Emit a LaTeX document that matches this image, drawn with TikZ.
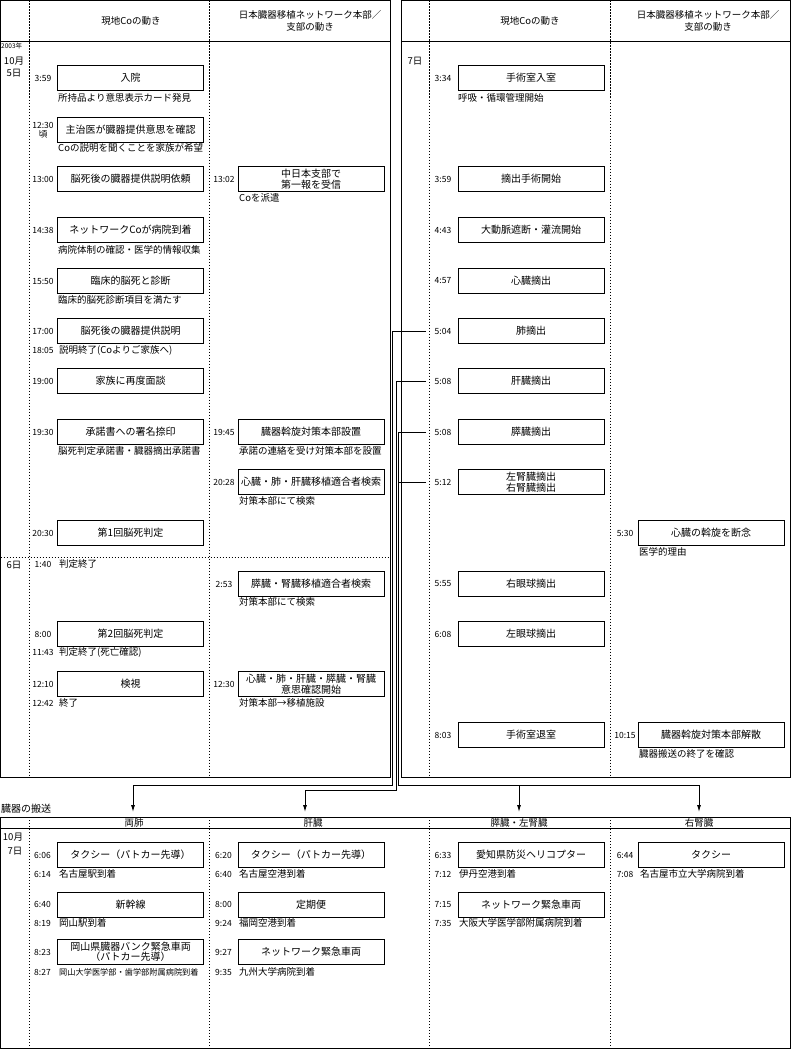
\documentclass[tikz,border=0pt]{standalone}
\usepackage{fontspec}
\setmainfont{Noto Sans CJK JP}
\usetikzlibrary{arrows.meta}

\tikzset{
  evbox/.style={draw, line width=0.9pt, minimum width=146pt, minimum height=25pt, inner sep=0pt, align=center, font=\fontsize{10}{10.5}\selectfont},
  tlabel/.style={inner sep=0pt, align=center, font=\fontsize{8.5}{9}\selectfont},
  note/.style={anchor=west, inner sep=0pt, font=\fontsize{9.5}{10}\selectfont},
  hdr/.style={inner sep=0pt, align=center, font=\fontsize{9.5}{12}\selectfont},
  daytag/.style={inner sep=0pt, font=\fontsize{9.5}{10}\selectfont},
  frame/.style={line width=0.9pt},
  colsep/.style={line width=0.9pt, dash pattern=on 1.2pt off 1.8pt},
  link/.style={line width=0.9pt},
  tolink/.style={link, -{Latex[length=7pt,width=4pt]}},
}

\begin{document}
\begin{tikzpicture}[x=1pt,y=-1pt]
\useasboundingbox (0,0) rectangle (791,1049);

	%frames
  \draw[frame] (0.5,0.5) rectangle (390,777);
  \draw[frame] (401,0.5) rectangle (790,777);
  \draw[frame] (0.5,817) rectangle (790,1048);
  \draw[frame] (0.5,41) -- (390,41);
  \draw[frame] (401,41) -- (790,41);
  \draw[frame] (0.5,828) -- (790,828);
  \foreach \x in {29,209}{
     \draw[colsep] (\x,0.5) -- (\x,777);
  }
  \foreach \x in {429.5,610}{
     \draw[colsep] (\x,0.5) -- (\x,777);
  }
  \foreach \x in {29,209,429.5,610}{
     \draw[colsep] (\x,817) -- (\x,1048);
  }
  \draw[colsep] (0.5,557) -- (390,557);

	%headers
  \node[hdr] (hA1) at (131,21) {現地Coの動き};
  \node[hdr] (hA2) at (310,21) {日本臓器移植ネットワーク本部／\\支部の動き};
  \node[hdr] (hB1) at (530,21) {現地Coの動き};
  \node[hdr] (hB2) at (708,21) {日本臓器移植ネットワーク本部／\\支部の動き};

	%days
  \node[inner sep=0pt, anchor=west, font=\fontsize{6.5}{7}\selectfont] (yr) at (1,46) {2003年};
  \node[daytag] (mon5) at (14,61) {10月};
  \node[daytag] (day5) at (14,73) {5日};
  \node[daytag] (day6) at (14,565) {6日};
  \node[daytag] (day7) at (415,61) {7日};

	%left panel, local Co
 \def\bx{130.5};
 \def\tx{43};
    \foreach \y/\tm/\txt/\name in {78/3:59/入院/a1, 130/{12:30\\頃}/主治医が臓器提供意思を確認/a2, 179/13:00/脳死後の臓器提供説明依頼/a3, 230/14:38/ネットワークCoが病院到着/a4, 281/15:50/臨床的脳死と診断/a5, 331/17:00/脳死後の臓器提供説明/a6, 381/19:00/家族に再度面談/a7, 432/19:30/承諾書への署名捺印/a8, 533/20:30/第1回脳死判定/a9, 634/8:00/第2回脳死判定/a10, 684/12:10/検視/a11}{
         \node[evbox] (\name) at (\bx,\y) {\txt};
         \node[tlabel] (t\name) at (\tx,\y) {\tm};
    }
    \foreach \y/\txt/\name in {98/所持品より意思表示カード発見/na1, 148/Coの説明を聞くことを家族が希望/na2, 250/病院体制の確認・医学的情報収集/na4, 300/臨床的脳死診断項目を満たす/na5, 451/脳死判定承諾書・臓器摘出承諾書/na8}{
         \node[note] (\name) at (58,\y) {\txt};
    }
    \foreach \y/\tm/\txt/\name in {350/18:05/説明終了(Coよりご家族へ)/ma6, 564/1:40/判定終了/ma9, 652/11:43/判定終了(死亡確認)/ma10, 703/12:42/終了/ma11}{
         \node[tlabel] (t\name) at (\tx,\y) {\tm};
         \node[note] (\name) at (59,\y) {\txt};
    }

	%left panel, network
 \def\bx{311};
 \def\tx{224};
    \foreach \y/\tm/\txt/\name in {179/13:02/{中日本支部で\\第一報を受信}/b1, 432/19:45/臓器斡旋対策本部設置/b2, 482/20:28/心臓・肺・肝臓移植適合者検索/b3, 584/2:53/膵臓・腎臓移植適合者検索/b4, 684/12:30/{心臓・肺・肝臓・膵臓・腎臓\\意思確認開始}/b5}{
         \node[evbox] (\name) at (\bx,\y) {\txt};
         \node[tlabel] (t\name) at (\tx,\y) {\tm};
    }
    \foreach \y/\txt/\name in {198/Coを派遣/nb1, 451/承諾の連絡を受け対策本部を設置/nb2, 501/対策本部にて検索/nb3, 602/対策本部にて検索/nb4, 703/対策本部→移植施設/nb5}{
         \node[note] (\name) at (239,\y) {\txt};
    }

	%right panel, local Co
 \def\bx{531};
 \def\tx{443};
    \foreach \y/\tm/\txt/\name in {78/3:34/手術室入室/c1, 179/3:59/摘出手術開始/c2, 230/4:43/大動脈遮断・灌流開始/c3, 281/4:57/心臓摘出/c4, 331/5:04/肺摘出/c5, 381/5:08/肝臓摘出/c6, 432/5:08/膵臓摘出/c7, 482/5:12/{左腎臓摘出\\右腎臓摘出}/c8, 584/5:55/右眼球摘出/c9, 634/6:08/左眼球摘出/c10, 735/8:03/手術室退室/c11}{
         \node[evbox] (\name) at (\bx,\y) {\txt};
         \node[tlabel, outer xsep=8.5pt] (t\name) at (\tx,\y) {\tm};
    }
  \node[note] (nc1) at (458,98) {呼吸・循環管理開始};

	%right panel, network
 \def\bx{711};
 \def\tx{625};
    \foreach \y/\tm/\txt/\name in {533/5:30/心臓の斡旋を断念/d1, 735/10:15/臓器斡旋対策本部解散/d2}{
         \node[evbox] (\name) at (\bx,\y) {\txt};
         \node[tlabel] (t\name) at (\tx,\y) {\tm};
    }
  \node[note] (nd1) at (639,552) {医学的理由};
  \node[note] (nd2) at (639,754) {臓器搬送の終了を確認};

	%transport
  \node[note, font=\fontsize{10}{11}\selectfont] (trans) at (1,809) {臓器の搬送};
  \node[hdr] (hC1) at (134,823) {両肺};
  \node[hdr] (hC2) at (313,823) {肝臓};
  \node[hdr] (hC3) at (519,823) {膵臓・左腎臓};
  \node[hdr] (hC4) at (699,823) {右腎臓};
  \node[daytag] (mon7) at (13,837) {10月};
  \node[daytag] (day7b) at (15,851) {7日};

 \def\bx{130.5};
 \def\tx{42.5};
    \foreach \y/\tm/\txt/\name in {855/6:06/タクシー（パトカー先導）/e1, 904.5/6:40/新幹線/e2, 952/8:23/{岡山県臓器バンク緊急車両\\（パトカー先導）}/e3}{
         \node[evbox] (\name) at (\bx,\y) {\txt};
         \node[tlabel] (t\name) at (\tx,\y) {\tm};
    }
    \foreach \y/\tm/\txt/\name in {874/6:14/名古屋駅到着/ne1, 923/8:19/岡山駅到着/ne2, 972/8:27/{\fontsize{8.2}{9}\selectfont 岡山大学医学部・歯学部附属病院到着}/ne3}{
         \node[tlabel] (t\name) at (\tx,\y) {\tm};
         \node[note] (\name) at (59,\y) {\txt};
    }

 \def\bx{311};
 \def\tx{223.5};
    \foreach \y/\tm/\txt/\name in {855/6:20/タクシー（パトカー先導）/f1, 904.5/8:00/定期便/f2, 952/9:27/ネットワーク緊急車両/f3}{
         \node[evbox] (\name) at (\bx,\y) {\txt};
         \node[tlabel] (t\name) at (\tx,\y) {\tm};
    }
    \foreach \y/\tm/\txt/\name in {874/6:40/名古屋空港到着/nf1, 923/9:24/福岡空港到着/nf2, 972/9:35/九州大学病院到着/nf3}{
         \node[tlabel] (t\name) at (\tx,\y) {\tm};
         \node[note] (\name) at (239,\y) {\txt};
    }

 \def\bx{531};
 \def\tx{443};
    \foreach \y/\tm/\txt/\name in {855/6:33/愛知県防災ヘリコプター/g1, 904.5/7:15/ネットワーク緊急車両/g2}{
         \node[evbox] (\name) at (\bx,\y) {\txt};
         \node[tlabel] (t\name) at (\tx,\y) {\tm};
    }
    \foreach \y/\tm/\txt/\name in {874/7:12/伊丹空港到着/ng1, 923/7:35/大阪大学医学部附属病院到着/ng2}{
         \node[tlabel] (t\name) at (\tx,\y) {\tm};
         \node[note] (\name) at (459,\y) {\txt};
    }

 \def\bx{711};
 \def\tx{625};
  \node[evbox] (h1) at (\bx,855) {タクシー};
  \node[tlabel] (th1) at (\tx,855) {6:44};
  \node[tlabel] (tnh1) at (\tx,874) {7:08};
  \node[note] (nh1) at (640,874) {名古屋市立大学病院到着};

	%organ routes
  \coordinate (k1) at (392,785);
  \coordinate (k2) at (396,790);
  \coordinate (k3) at (398.5,785);
  \coordinate (p1) at (133,812);
  \coordinate (p2) at (305,812);
  \coordinate (p3) at (519,812);
  \coordinate (p4) at (699,812);
  \draw[tolink] (tc5.west) -| (k1) -| (p1);
  \draw[tolink] (tc6.west) -| (k2) -| (p2);
  \draw[tolink] (tc7.west) -| (k3) -| (p3);
  \draw[tolink] (tc8.west) -| (k3) -| (p4);

\end{tikzpicture}
\end{document}
